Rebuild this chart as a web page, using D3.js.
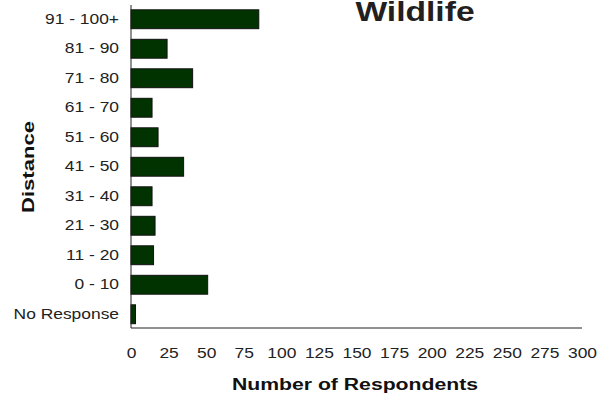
<!DOCTYPE html>
<html>
<head>
<meta charset="utf-8">
<script src="https://cdn.jsdelivr.net/npm/d3@7"></script>
<style>
  html, body { margin: 0; padding: 0; background: #fff; }
  svg { display: block; font-family: "Liberation Sans", Arial, sans-serif; }
</style>
</head>
<body>
<svg id="chart" width="611" height="400"></svg>
<script>
const categories = ["91 - 100+", "81 - 90", "71 - 80", "61 - 70", "51 - 60", "41 - 50",
                    "31 - 40", "21 - 30", "11 - 20", "0 - 10", "No Response"];
const values = [85, 24, 41, 14, 18, 35, 14, 16, 15, 51, 3];
const xTicks = [0, 25, 50, 75, 100, 125, 150, 175, 200, 225, 250, 275, 300];
const title = "Wildlife";
const xTitle = "Number of Respondents";
const yTitle = "Distance";

const svg = d3.select("#chart");
const stretch = 1.2;

const x = d3.scaleLinear().domain([0, 300]).range([131, 582]);
const y = d3.scaleBand().domain(categories).range([4.5, 329]).paddingInner(0.36).paddingOuter(0.18);

// bars
svg.append("g").selectAll("rect").data(categories).join("rect")
  .attr("x", x(0))
  .attr("y", d => y(d))
  .attr("width", (d, i) => x(values[i]) - x(0))
  .attr("height", y.bandwidth())
  .attr("fill", "#003300")
  .attr("stroke", "#111")
  .attr("stroke-width", 1);

// axes lines
svg.append("line").attr("x1", 131).attr("x2", 131).attr("y1", 5).attr("y2", 328)
  .attr("stroke", "#222").attr("stroke-width", 1);
svg.append("line").attr("x1", 131).attr("x2", 582).attr("y1", 328).attr("y2", 328)
  .attr("stroke", "#222").attr("stroke-width", 1);

// y axis labels
const yAxis = svg.append("g").attr("transform", "translate(131,0)")
  .call(d3.axisLeft(y).tickSize(0).tickPadding(12));
yAxis.select(".domain").remove();
yAxis.selectAll("text").attr("font-size", 14.5).attr("fill", "#222")
  .attr("font-family", "Liberation Sans, Arial, sans-serif");

// x axis labels
const xAxis = svg.append("g").attr("transform", "translate(0,328)")
  .call(d3.axisBottom(x).tickValues(xTicks).tickSize(0).tickPadding(20));
xAxis.select(".domain").remove();
xAxis.selectAll("text").attr("font-size", 14.5).attr("fill", "#222")
  .attr("font-family", "Liberation Sans, Arial, sans-serif");

// titles
svg.append("text").attr("class", "title").attr("x", 415).attr("y", 21)
  .attr("text-anchor", "middle").attr("font-size", 28).attr("font-weight", "bold")
  .attr("fill", "#231f20").text(title);

svg.append("text").attr("class", "xtitle").attr("x", 355).attr("y", 390)
  .attr("text-anchor", "middle").attr("font-size", 16).attr("font-weight", "bold")
  .attr("fill", "#111").attr("data-len", 246).text(xTitle);

svg.append("text").attr("class", "ytitle")
  .attr("transform", "translate(34,167) rotate(-90)")
  .attr("text-anchor", "middle").attr("font-size", 16).attr("font-weight", "bold")
  .attr("fill", "#111").attr("data-len", 92).text(yTitle);

// horizontal stretch to match reference glyph proportions
svg.selectAll("text").each(function() {
  const el = d3.select(this);
  const fixed = el.attr("data-len");
  const len = fixed ? +fixed : this.getComputedTextLength() * stretch;
  el.attr("textLength", len).attr("lengthAdjust", "spacingAndGlyphs");
});
</script>
</body>
</html>
